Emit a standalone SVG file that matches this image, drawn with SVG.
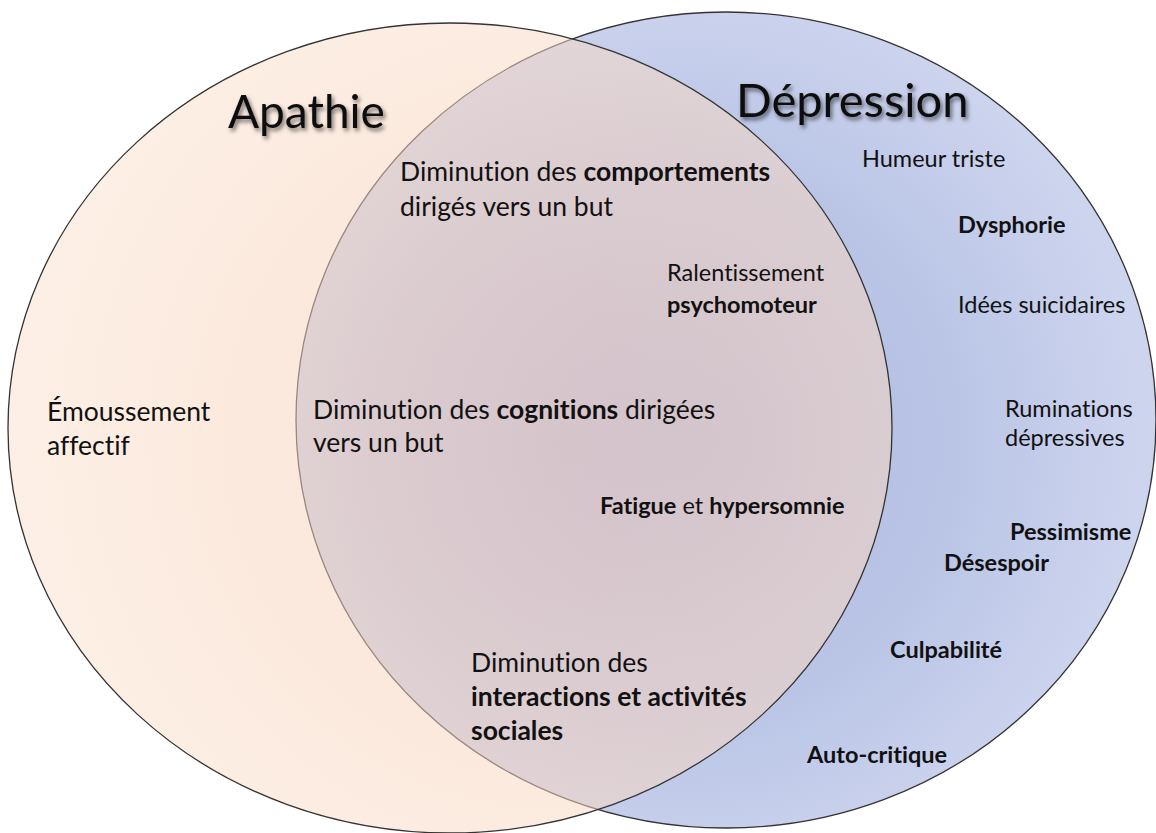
<svg xmlns="http://www.w3.org/2000/svg" width="1156" height="833" viewBox="0 0 1156 833">
<defs>
<radialGradient id="gBlue" gradientUnits="userSpaceOnUse" cx="680" cy="440" r="460">
<stop offset="0" stop-color="#ACB8E0"/>
<stop offset="0.6" stop-color="#BAC5E6"/>
<stop offset="1" stop-color="#CDD4EE"/>
</radialGradient>
<radialGradient id="gPeach" gradientUnits="userSpaceOnUse" cx="560" cy="440" r="520">
<stop offset="0" stop-color="#F8CBB6"/>
<stop offset="0.6" stop-color="#F9D5BE"/>
<stop offset="1" stop-color="#FAE0CC"/>
</radialGradient>
<filter id="shadow" x="-10%" y="-20%" width="130%" height="150%">
<feDropShadow dx="2" dy="3" stdDeviation="2" flood-color="#000" flood-opacity="0.55"/>
</filter>
</defs>
<style>
text { font-family: Lato, "Open Sans", "Liberation Sans", sans-serif; fill: #111; font-variant-ligatures: none; }
.title { font-size: 46px; }
.t1 { font-size: 26.5px; }
.t2 { font-size: 23.5px; }
.b { font-weight: bold; }
.edge { fill: none; stroke: #333; stroke-width: 1.3; }
</style>
<rect width="1156" height="833" fill="#FFFFFF"/>
<g id="depression-circle">
<ellipse cx="726" cy="420" rx="430" ry="408" fill="url(#gBlue)" stroke="#333" stroke-width="1.3"/>
</g>
<g id="apathie-circle">
<ellipse cx="450" cy="428" rx="442" ry="405" fill="url(#gPeach)" fill-opacity="0.52"/>
<ellipse class="edge" cx="450" cy="428" rx="442" ry="405"/>
</g>
<g id="titles">
<text class="title" x="228" y="128" filter="url(#shadow)">Apathie</text>
<text class="title" x="736" y="117" filter="url(#shadow)" style="font-size:47px">Dépression</text>
</g>
<g id="apathie-only">
<text class="t1" x="47" y="421">Émoussement</text>
<text class="t1" x="47" y="455">affectif</text>
</g>
<g id="shared">
<text class="t1" x="400" y="181">Diminution des <tspan class="b">comportements</tspan></text>
<text class="t1" x="400" y="216">dirigés vers un but</text>
<text class="t2" x="667" y="281">Ralentissement</text>
<text class="t2 b" x="667" y="313">psychomoteur</text>
<text class="t1" x="313" y="419">Diminution des <tspan class="b">cognitions</tspan> dirigées</text>
<text class="t1" x="313" y="452">vers un but</text>
<text class="t2" x="600" y="514"><tspan class="b">Fatigue</tspan> et <tspan class="b">hypersomnie</tspan></text>
<text class="t1" x="471" y="672">Diminution des</text>
<text class="t1 b" x="471" y="706">interactions et activités</text>
<text class="t1 b" x="471" y="740">sociales</text>
</g>
<g id="depression-only">
<text class="t2" x="862" y="167">Humeur triste</text>
<text class="t2 b" x="958" y="233">Dysphorie</text>
<text class="t2" x="958" y="313">Idées suicidaires</text>
<text class="t2" x="1005" y="417">Ruminations</text>
<text class="t2" x="1005" y="446">dépressives</text>
<text class="t2 b" x="1010" y="540">Pessimisme</text>
<text class="t2 b" x="944" y="571">Désespoir</text>
<text class="t2 b" x="890" y="658">Culpabilité</text>
<text class="t2 b" x="807" y="763">Auto-critique</text>
</g>
<g id="connectors"/>
</svg>
